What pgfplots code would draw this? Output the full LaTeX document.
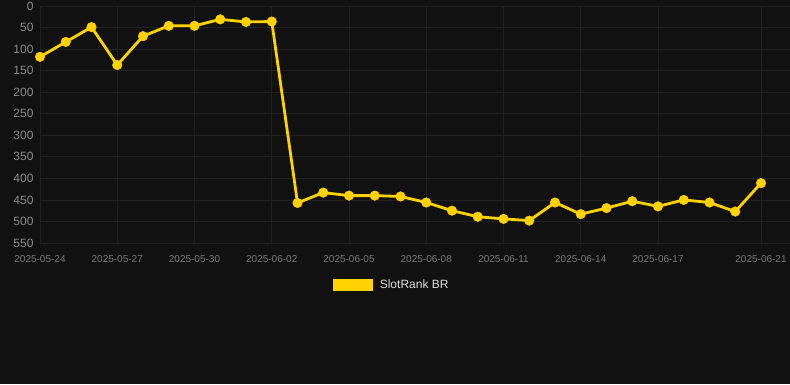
\documentclass[border=0pt]{standalone}
\usepackage{pgfplots}
\pgfplotsset{compat=1.18}
\usepackage{fontspec}
\setmainfont{Liberation Sans}
\definecolor{bg}{HTML}{111111}
\definecolor{gridc}{HTML}{212121}
\definecolor{ticky}{HTML}{8C8C8C}
\definecolor{tickx}{HTML}{7A7A7A}
\definecolor{lineY}{HTML}{FFD200}
\definecolor{legtext}{HTML}{DDDDDD}
\begin{document}
\begin{tikzpicture}[x=1pt,y=1pt]
\useasboundingbox (0,0) rectangle (790,384);
\fill[bg] (0,0) rectangle (790,384);
\begin{axis}[
  at={(40pt,141pt)}, anchor=south west,
  scale only axis, width=750pt, height=237pt,
  xmin=0, xmax=29.126, ymin=0, ymax=550,
  y dir=reverse,
  axis line style={draw=none},
  tick style={draw=none},
  grid=major,
  major grid style={draw=gridc, line width=0.8pt},
  xtick={0,3,6,9,12,15,18,21,24,28},
  xticklabels={2025-05-24,2025-05-27,2025-05-30,2025-06-02,2025-06-05,2025-06-08,2025-06-11,2025-06-14,2025-06-17,2025-06-21},
  ytick={0,50,...,550},
  /pgf/number format/assume math mode=true,
  yticklabel style={font=\fontsize{12}{14}\selectfont, text=ticky, anchor=east, xshift=-3pt},
  xticklabel style={font=\fontsize{10}{12}\selectfont, text=tickx, anchor=north, yshift=-9pt},
  legend style={at={(0.4693,-0.175)}, anchor=center, draw=none, fill=none, inner sep=0pt,
    font=\fontsize{12}{14}\selectfont, text=legtext,
    /tikz/every odd column/.append style={column sep=5pt},
    /tikz/every even column/.append style={column sep=0pt}},
  legend cell align=left,
]
\addlegendimage{legend image code/.code={\fill[lineY] (0pt,-5.5pt) rectangle (39pt,5.5pt);}}
\addlegendentry{SlotRank BR}
\addplot[lineY, line width=2.8pt, mark=*, mark size=4.8pt, mark options={solid, fill=lineY, draw=lineY, line width=0.4pt}, forget plot] coordinates {
(0,118) (1,83.5) (2,49) (3,137) (4,70) (5,46) (6,46) (7,31) (8,37) (9,36)
(10,457) (11,433) (12,440) (13,440) (14,442) (15,456) (16,475) (17,489) (18,494) (19,498)
(20,456) (21,483) (22,469) (23,453) (24,465) (25,450) (26,456) (27,477) (28,411)
};
\end{axis}
\end{tikzpicture}
\end{document}
